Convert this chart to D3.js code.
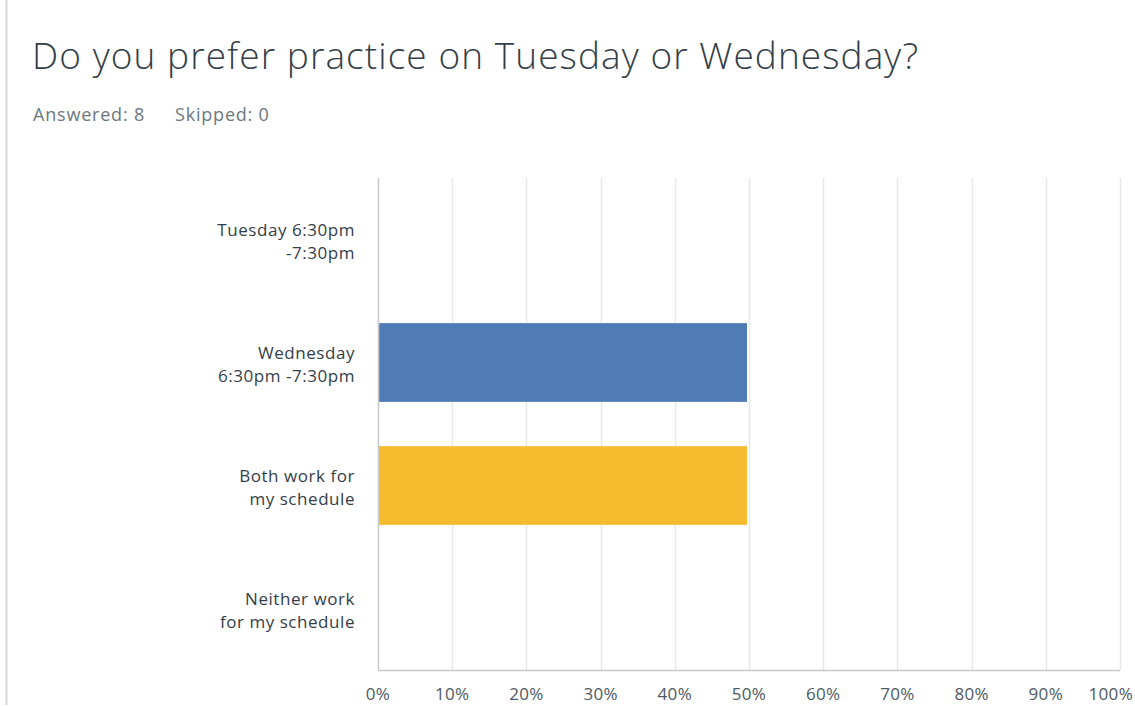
<!DOCTYPE html>
<html>
<head>
<meta charset="utf-8">
<script src="https://cdn.jsdelivr.net/npm/d3@7"></script>
<style>
  body { margin: 0; background: #fff; }
  svg { display: block; font-family: "Open Sans", "Noto Sans", sans-serif; }
</style>
</head>
<body>
<div id="chart"></div>
<script>
// 数据
const categories = [
    ["Tuesday 6:30pm", "-7:30pm"],
    ["Wednesday", "6:30pm -7:30pm"],
    ["Both work for", "my schedule"],
    ["Neither work", "for my schedule"]
];
const values = [0, 50, 50, 0];
const barColors = ["#507cb6", "#507cb6", "#f6bb2f", "#f6bb2f"];
const ticks = [0, 10, 20, 30, 40, 50, 60, 70, 80, 90, 100];

const width = 1135, height = 706;
const plot = { left: 378, right: 1120, top: 178, bottom: 670 };

const svg = d3.select("#chart").append("svg")
    .attr("width", width)
    .attr("height", height);

// 左侧边框
svg.append("line")
    .attr("x1", 6.5).attr("x2", 6.5)
    .attr("y1", 0).attr("y2", 705)
    .style("stroke", "#d6d6d6")
    .style("stroke-width", 2);

svg.append("text")
    .attr("x", 32).attr("y", 69)
    .attr("textLength", 886)
    .attr("lengthAdjust", "spacing")
    .style("font-size", "37px")
    .style("font-weight", 300)
    .style("fill", "#333e48")
    .text("Do you prefer practice on Tuesday or Wednesday?");

svg.append("text")
    .attr("x", 33).attr("y", 121)
    .style("font-size", "18px")
    .style("letter-spacing", "0.8px")
    .style("fill", "#6b787f")
    .text("Answered: 8");
svg.append("text")
    .attr("x", 175).attr("y", 121)
    .style("font-size", "18px")
    .style("letter-spacing", "0.8px")
    .style("fill", "#6b787f")
    .text("Skipped: 0");

const x = d3.scaleLinear().domain([0, 100]).range([plot.left, plot.right]);
const y = d3.scaleBand()
    .domain(d3.range(categories.length))
    .range([plot.top, plot.bottom])
    .paddingInner(0.36)
    .paddingOuter(0.18);

// 网格线
svg.append("g")
    .selectAll("line")
    .data(ticks.slice(1))
    .join("line")
    .attr("x1", d => Math.round(x(d)) + 0.5)
    .attr("x2", d => Math.round(x(d)) + 0.5)
    .attr("y1", plot.top)
    .attr("y2", plot.bottom)
    .style("stroke", "#e8e8e8")
    .style("stroke-width", 1.5);

// 柱子
svg.append("g")
    .selectAll("rect")
    .data(values)
    .join("rect")
    .attr("x", x(0))
    .attr("y", (d, i) => y(i))
    .attr("width", d => x(d) - x(0) - 2)
    .attr("height", y.bandwidth())
    .style("fill", (d, i) => barColors[i]);

// 坐标轴线
svg.append("line")
    .attr("x1", plot.left + 0.5).attr("x2", plot.left + 0.5)
    .attr("y1", plot.top).attr("y2", plot.bottom)
    .style("stroke", "#c8c8c8")
    .style("stroke-width", 1.5);
svg.append("line")
    .attr("x1", plot.left).attr("x2", plot.right)
    .attr("y1", plot.bottom + 0.5).attr("y2", plot.bottom + 0.5)
    .style("stroke", "#c8c8c8")
    .style("stroke-width", 1.5);

// x 轴标签
svg.append("g")
    .selectAll("text")
    .data(ticks)
    .join("text")
    .attr("x", d => d === 100 ? x(d) + 13 : x(d))
    .attr("y", 700)
    .attr("text-anchor", d => d === 100 ? "end" : "middle")
    .style("font-size", "17px")
    .style("letter-spacing", "0.3px")
    .style("fill", "#4d5963")
    .text(d => d + "%");

// y 轴标签
const labels = svg.append("g")
    .selectAll("text")
    .data(categories)
    .join("text")
    .attr("text-anchor", "end")
    .style("font-size", "17px")
    .style("letter-spacing", "0.55px")
    .style("fill", "#333e48");
labels.each(function(d, i) {
    const cy = y(i) + y.bandwidth() / 2;
    d3.select(this).selectAll("tspan")
        .data(d)
        .join("tspan")
        .attr("x", 355)
        .attr("y", (t, j) => cy - 4 + j * 23)
        .text(t => t);
});
</script>
</body>
</html>
